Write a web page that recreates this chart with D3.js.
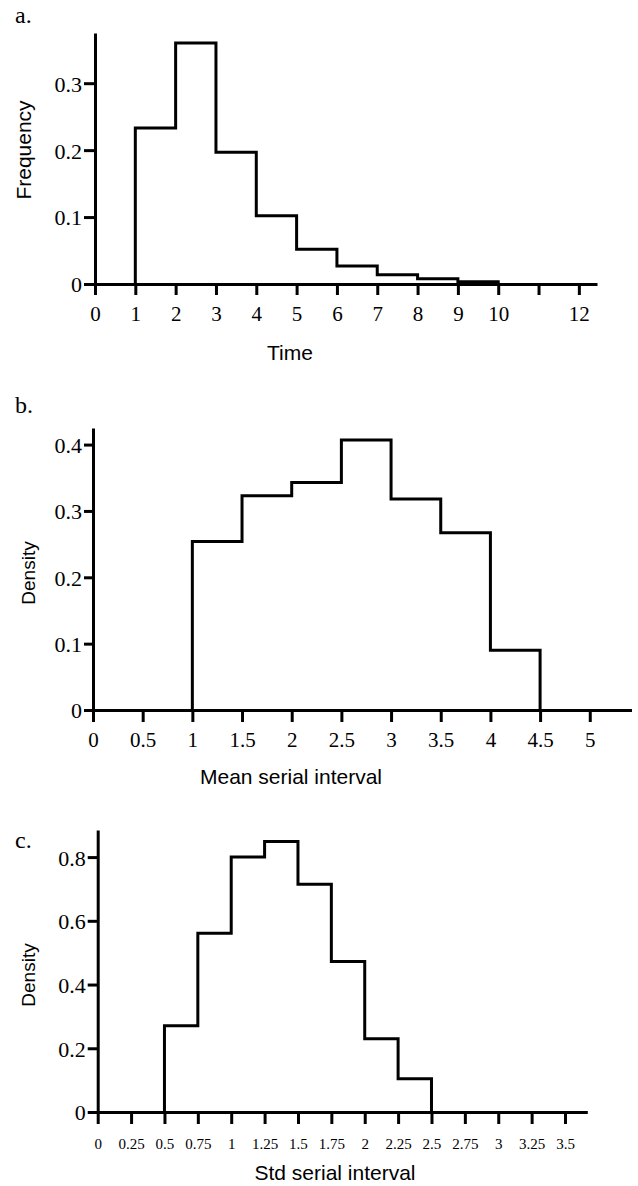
<!DOCTYPE html>
<html lang="en">
<head>
	<meta charset="UTF-8">
	<title>serial interval histograms</title>
	<style type="text/css">
		body { margin: 0; background: #fff; }
		.axis path, .axis line { stroke: #000; stroke-width: 3px; }
		.axis text { font-family: "Liberation Serif", serif; fill: #000; }
		.hist { fill: none; stroke: #000; stroke-width: 3px; stroke-linejoin: miter; }
		.title { font-family: "Liberation Sans", Arial, sans-serif; fill: #000; }
		.panel { font-family: "Liberation Serif", serif; fill: #000; }
	</style>
</head>
<body>
<svg id="chart" width="638" height="1186"></svg>

<script src="https://d3js.org/d3.v7.min.js"></script>
<script>
	"use strict";

	// a. serial interval distribution
	var timeEdges = [1,2,3,4,5,6,7,8,9,10];
	var timeFreq = [0.233,0.360,0.197,0.102,0.052,0.027,0.014,0.008,0.0035];
	var timeTicks = [0,1,2,3,4,5,6,7,8,9,10,11,12];
	var timeTickLabels = ["0","1","2","3","4","5","6","7","8","9","10","","12"];
	var freqTicks = [0,0.1,0.2,0.3];

	// b. mean serial interval
	var meanEdges = [1,1.5,2,2.5,3,3.5,4,4.5];
	var meanDensity = [0.254,0.323,0.343,0.407,0.318,0.267,0.090];
	var meanTicks = [0,0.5,1,1.5,2,2.5,3,3.5,4,4.5,5];
	var meanYTicks = [0,0.1,0.2,0.3,0.4];

	// c. std serial interval
	var stdEdges = [0.5,0.75,1,1.25,1.5,1.75,2,2.25,2.5];
	var stdDensity = [0.271,0.561,0.800,0.849,0.715,0.472,0.230,0.104];
	var stdTicks = [0,0.25,0.5,0.75,1,1.25,1.5,1.75,2,2.25,2.5,2.75,3,3.25,3.5];
	var stdYTicks = [0,0.2,0.4,0.6,0.8];

	var svg = d3.select("#chart");

	function fmt(d) { return d === 0 ? "0" : String(d); }

	function panel(p) {
		var x = d3.scaleLinear().domain(p.xDomain).range(p.xRange);
		var y = d3.scaleLinear().domain(p.yDomain).range(p.yRange);
		var g = svg.append("g");

		// step outline of the histogram
		var pts = [[p.edges[0], 0]];
		p.values.forEach(function(v, i) {
			pts.push([p.edges[i], v]);
			pts.push([p.edges[i + 1], v]);
		});
		pts.push([p.edges[p.edges.length - 1], 0]);

		var line = d3.line()
			.x(function(d) { return x(d[0]); })
			.y(function(d) { return y(d[1]); });

		g.append("path")
			.attr("class", "hist")
			.attr("d", line(pts));

		var xa = g.append("g")
			.attr("class", "axis")
			.attr("transform", "translate(0," + p.yRange[0] + ")")
			.call(d3.axisBottom(x)
				.tickValues(p.xTicks)
				.tickSize(p.xTickSize)
				.tickSizeOuter(0)
				.tickFormat(function(d, i) { return p.xLabels ? p.xLabels[i] : fmt(d); }));
		xa.selectAll("text")
			.attr("y", 37).attr("dy", 0)
			.style("font-size", p.xFont + "px");

		var ya = g.append("g")
			.attr("class", "axis")
			.attr("transform", "translate(" + p.xRange[0] + ",0)")
			.call(d3.axisLeft(y)
				.tickValues(p.yTicks)
				.tickSize(p.yTickSize)
				.tickSizeOuter(0)
				.tickFormat(fmt));
		ya.selectAll("text")
			.attr("x", -p.yTickSize - 2)
			.attr("dy", "0.36em")
			.style("font-size", p.yFont + "px");

		svg.append("text")
			.attr("class", "title")
			.attr("x", p.xTitlePos[0]).attr("y", p.xTitlePos[1])
			.attr("text-anchor", "middle")
			.style("font-size", "21px")
			.text(p.xTitle);

		svg.append("text")
			.attr("class", "title")
			.attr("transform", "translate(" + p.yTitlePos[0] + "," + p.yTitlePos[1] + ") rotate(-90)")
			.attr("text-anchor", "middle")
			.attr("dy", "0.35em")
			.style("font-size", p.yTitleFont + "px")
			.text(p.yTitle);

		svg.append("text")
			.attr("class", "panel")
			.attr("x", 15).attr("y", p.labelY)
			.style("font-size", "24px")
			.text(p.label);
	}

	panel({
		edges: timeEdges, values: timeFreq,
		xDomain: [0, 12.45], xRange: [95, 597],
		yDomain: [0, 0.375], yRange: [284, 33],
		xTicks: timeTicks, xLabels: timeTickLabels, yTicks: freqTicks,
		xTickSize: 11, yTickSize: 11, xFont: 21, yFont: 22,
		xTitle: "Time", xTitlePos: [290, 360],
		yTitle: "Frequency", yTitlePos: [24, 150], yTitleFont: 21,
		label: "a.", labelY: 23
	});

	panel({
		edges: meanEdges, values: meanDensity,
		xDomain: [0, 5.42], xRange: [93, 631.5],
		yDomain: [0, 0.425], yRange: [710, 428],
		xTicks: meanTicks, yTicks: meanYTicks,
		xTickSize: 12, yTickSize: 9, xFont: 21, yFont: 22,
		xTitle: "Mean serial interval", xTitlePos: [291, 784],
		yTitle: "Density", yTitlePos: [28, 573], yTitleFont: 19,
		label: "b.", labelY: 413
	});

	panel({
		edges: stdEdges, values: stdDensity,
		xDomain: [0, 3.667], xRange: [97.7, 587.3],
		yDomain: [0, 0.885], yRange: [1112, 830],
		xTicks: stdTicks, yTicks: stdYTicks,
		xTickSize: 12, yTickSize: 10, xFont: 15, yFont: 22,
		xTitle: "Std serial interval", xTitlePos: [335, 1180],
		yTitle: "Density", yTitlePos: [28, 975], yTitleFont: 19,
		label: "c.", labelY: 848
	});
</script>
</body>
</html>
